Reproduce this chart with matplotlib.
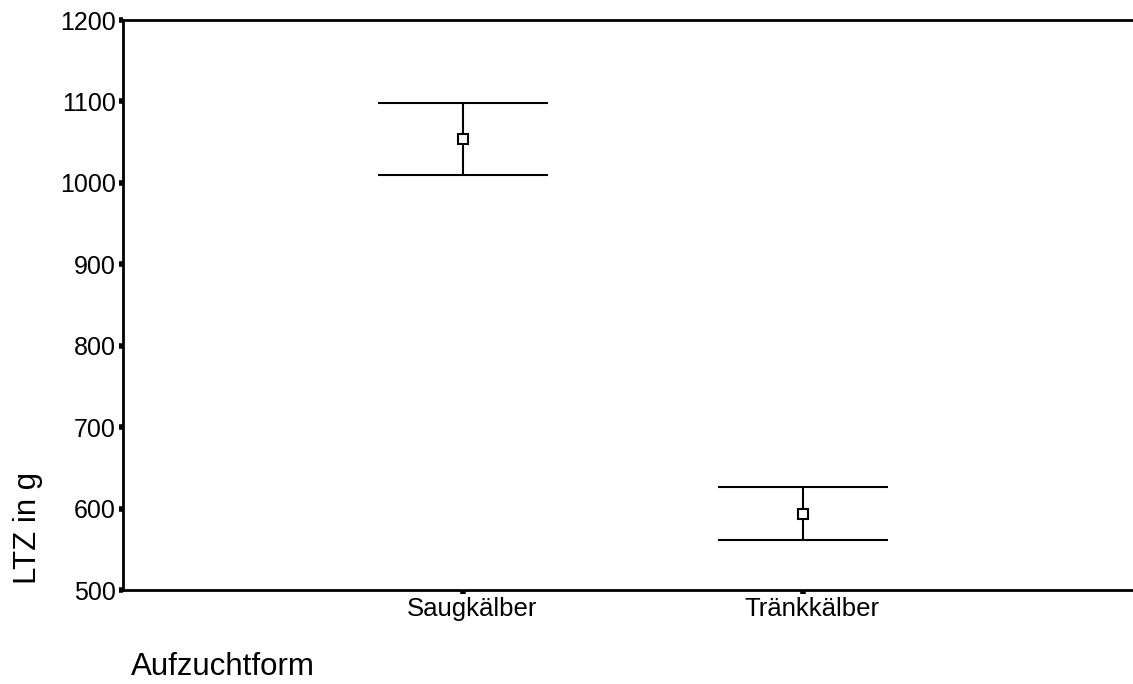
import numpy as np
import matplotlib.pyplot as plt
import matplotlib.transforms as mtransforms

# data
groups = ['Saugkälber', 'Tränkkälber']
means = [1054, 593]
upper = [1098, 627]
lower = [1010, 561]
yticks = [500, 600, 700, 800, 900, 1000, 1100, 1200]

plt.rcParams['font.family'] = ['Liberation Sans', 'DejaVu Sans']

fig = plt.figure(figsize=(11.33, 6.84), dpi=100)
ax = fig.add_axes([123 / 1133, 94 / 684, 1 - 123 / 1133, 570 / 684])

x = np.arange(1, len(groups) + 1)
means = np.array(means)
err = [means - np.array(lower), np.array(upper) - means]

ax.errorbar(x, means, yerr=err, fmt='none', ecolor='black', elinewidth=1.5,
            capsize=61, capthick=1.5)
ax.plot(x, means, 's', markersize=7, markerfacecolor='white',
        markeredgecolor='black', markeredgewidth=1.5, zorder=3)

ax.set_xlim(0, 2.97)
ax.set_ylim(500, 1200)
ax.set_xticks(x)
ax.set_xticklabels(groups, fontsize=18.5)
ax.set_yticks(yticks)
ax.set_yticklabels([str(t) for t in yticks], fontsize=18)

ax.spines['right'].set_visible(False)
for s in ['left', 'bottom', 'top']:
    ax.spines[s].set_linewidth(2)
ax.tick_params(axis='both', direction='out', length=3, width=4, pad=2)

# x labels sit a little right of their ticks in the original
shift = mtransforms.ScaledTranslation(9 / 100, 0, fig.dpi_scale_trans)
for tick in ax.xaxis.get_major_ticks():
    tick.label1.set_transform(tick.label1.get_transform() + shift)

fig.text(28 / 1133, 1 - 528 / 684, 'LTZ in g', rotation=90, fontsize=22.5,
         ha='center', va='center')
fig.text(131 / 1133, 1 - 675 / 684, 'Aufzuchtform', fontsize=22.5,
         ha='left', va='baseline')

fig.savefig('out.png', dpi=100)
